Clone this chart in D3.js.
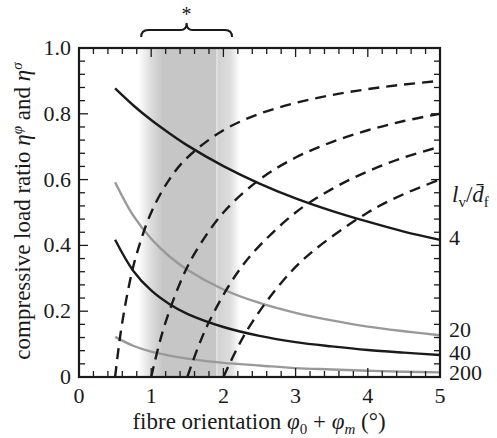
<!DOCTYPE html>
<html><head><meta charset="utf-8">
<script src="https://cdn.jsdelivr.net/npm/d3@7"></script>
<style>
svg text, svg tspan { font-family: "Liberation Serif", "Times New Roman", Times, Tinos, serif !important; }
</style>
</head>
<body style="margin:0"><svg id="c" width="497" height="438" style="font-family:'Times New Roman'"></svg>
<script>
// ---- data ----
const xTicks = [0,1,2,3,4,5];
const yTicks = [0,0.2,0.4,0.6,0.8,1.0];
const yTickLabels = ["0","0.2","0.4","0.6","0.8","1.0"];
const ratioLabels = ["4","20","40","200"];

const solidX = [0.5,0.75,1,1.25,1.5,2,2.5,3,3.5,4,4.5,5];
const eta4   = [0.877,0.826,0.781,0.741,0.704,0.641,0.588,0.543,0.505,0.472,0.442,0.417];
const eta20  = [0.592,0.491,0.420,0.367,0.326,0.266,0.225,0.195,0.172,0.153,0.139,0.127];
const eta40  = [0.417,0.323,0.263,0.222,0.192,0.152,0.125,0.106,0.093,0.082,0.074,0.067];
const eta200 = [0.122,0.095,0.077,0.065,0.056,0.043,0.035,0.027,0.023,0.019,0.016,0.014];

const dashAX = [0.5,0.55,0.6,0.7,0.8,1,1.25,1.5,2,2.5,3,3.5,4,4.5,5];
const dashAY = [0,0.091,0.167,0.286,0.375,0.5,0.6,0.667,0.75,0.8,0.833,0.857,0.875,0.889,0.9];
const dashBX = [1,1.1,1.2,1.4,1.6,2,2.5,3,3.5,4,4.5,5];
const dashBY = [0,0.091,0.167,0.286,0.375,0.5,0.6,0.667,0.714,0.75,0.778,0.8];
const dashCX = [1.5,1.65,1.8,2.1,2.4,3,3.5,4,4.5,5];
const dashCY = [0,0.091,0.167,0.286,0.375,0.5,0.571,0.625,0.667,0.7];
const dashDX = [2,2.2,2.4,2.8,3.2,4,4.5,5];
const dashDY = [0,0.091,0.167,0.286,0.375,0.5,0.556,0.6];

const bandStart = 0.82, bandCoreStart = 1.16, bandLine = 1.91, bandEnd = 2.23;

// ---- layout ----
const L = 79, R = 440, T = 48, B = 377;
const x = d3.scaleLinear().domain([0,5]).range([L,R]);
const y = d3.scaleLinear().domain([0,1]).range([B,T]);
const svg = d3.select("#c");
const INK = "#1a1a1a";
const txt = (sel)=>sel.append("text").attr("font-family","Liberation Serif")
  .style("font-family",'"Liberation Serif"').attr("fill",INK);

// gradient band
const defs = svg.append("defs");
const g = defs.append("linearGradient").attr("id","band")
  .attr("gradientUnits","userSpaceOnUse")
  .attr("x1",x(bandStart)).attr("x2",x(bandEnd)).attr("y1",0).attr("y2",0);
const span = bandEnd - bandStart;
const off = v => ((v - bandStart)/span*100)+"%";
[[bandStart,"#ffffff"],[1.0,"#dcdcdc"],[bandCoreStart,"#c6c6c6"],[bandLine,"#c6c6c6"],
 [bandLine,"#d0d0d0"],[2.1,"#dedede"],[bandEnd,"#ffffff"]]
 .forEach(([v,c])=>g.append("stop").attr("offset",off(v)).attr("stop-color",c));
svg.append("rect").attr("x",x(bandStart)).attr("y",T)
  .attr("width",x(bandEnd)-x(bandStart)).attr("height",B-T).attr("fill","url(#band)");
svg.append("line").attr("x1",x(bandLine)).attr("x2",x(bandLine)).attr("y1",T).attr("y2",B)
  .attr("stroke","#efefef").attr("stroke-width",1);

// curves
const line = d3.line().x(d=>x(d[0])).y(d=>y(d[1])).curve(d3.curveCatmullRom);
const zip = (a,b)=>a.map((v,i)=>[v,b[i]]);
const solids = [[eta200,"#999"],[eta20,"#999"],[eta40,INK],[eta4,INK]];
solids.forEach(([ys,c])=>svg.append("path").attr("d",line(zip(solidX,ys)))
  .attr("fill","none").attr("stroke",c).attr("stroke-width",2.4));
[[dashAX,dashAY],[dashBX,dashBY],[dashCX,dashCY],[dashDX,dashDY]].forEach(([xs,ys])=>
  svg.append("path").attr("d",line(zip(xs,ys))).attr("fill","none")
    .attr("stroke",INK).attr("stroke-width",2.4).attr("stroke-dasharray","11,7"));

// ticks (inward on all four sides)
const ax = svg.append("g").attr("stroke",INK).attr("stroke-width",1.3);
d3.range(0,5.001,0.2).forEach(v=>{
  const major = Math.abs(v-Math.round(v))<1e-6, len = major?9:6;
  ax.append("line").attr("x1",x(v)).attr("x2",x(v)).attr("y1",B).attr("y2",B-len);
  ax.append("line").attr("x1",x(v)).attr("x2",x(v)).attr("y1",T).attr("y2",T+len);
});
d3.range(0,1.0001,0.04).forEach(v=>{
  const major = Math.abs(v*5-Math.round(v*5))<1e-6, len = major?9:6;
  ax.append("line").attr("x1",L).attr("x2",L+len).attr("y1",y(v)).attr("y2",y(v));
  ax.append("line").attr("x1",R).attr("x2",R-len).attr("y1",y(v)).attr("y2",y(v));
});
svg.append("rect").attr("x",L).attr("y",T).attr("width",R-L).attr("height",B-T)
  .attr("fill","none").attr("stroke",INK).attr("stroke-width",2.2);

// tick labels
xTicks.forEach(v=>txt(svg).attr("x",x(v)).attr("y",403).attr("text-anchor","middle")
  .attr("font-size",22).text(v));
yTicks.forEach((v,i)=>txt(svg).attr("x",71).attr("y",y(v)+7).attr("text-anchor","end")
  .attr("font-size",22).text(yTickLabels[i]));

// axis titles
const xt = txt(svg).attr("x",259).attr("y",429).attr("text-anchor","middle").attr("font-size",23);
xt.append("tspan").text("fibre orientation ");
xt.append("tspan").attr("font-style","italic").text("φ");
xt.append("tspan").attr("font-size",15).attr("dy",5).text("0");
xt.append("tspan").attr("dy",-5).text(" + ");
xt.append("tspan").attr("font-style","italic").text("φ");
xt.append("tspan").attr("font-size",15).attr("font-style","italic").attr("dy",5).text("m");
xt.append("tspan").attr("dy",-5).text(" (°)");

const yt = txt(svg).attr("transform","translate(30,211) rotate(-90)")
  .attr("text-anchor","middle").attr("font-size",23);
yt.append("tspan").text("compressive load ratio ");
yt.append("tspan").attr("font-style","italic").text("η");
yt.append("tspan").attr("font-style","italic").attr("font-size",15).attr("dy",-8).text("φ");
yt.append("tspan").attr("dy",8).text(" and ");
yt.append("tspan").attr("font-style","italic").text("η");
yt.append("tspan").attr("font-style","italic").attr("font-size",15).attr("dy",-8).text("σ");

// right-hand labels
const rl = txt(svg).attr("x",452).attr("y",202).attr("font-size",23);
rl.append("tspan").attr("font-style","italic").text("l");
rl.append("tspan").attr("font-size",15).attr("dy",5).text("v");
rl.append("tspan").attr("dy",-5).text("/");
rl.append("tspan").attr("font-style","italic").text("d\u0304");
rl.append("tspan").attr("font-size",15).attr("dy",5).text("f");
const rY = [eta4, eta20, eta40, eta200].map(a=>a[a.length-1]);
const rOffsets = [5, 2, 5, 8];
ratioLabels.forEach((t,i)=>txt(svg).attr("x",449)
  .attr("y",y(rY[i]) + rOffsets[i]).attr("font-size",22).text(t));

// brace and asterisk
const bx0 = x(bandStart)+3, bx1 = x(bandEnd)-8, bm = (bx0+bx1)/2;
svg.append("path").attr("d",
  `M${bx0},37 Q${bx0},30 ${bx0+7},30 L${bm-6},30 Q${bm},30 ${bm},23 Q${bm},30 ${bm+6},30 L${bx1-7},30 Q${bx1},30 ${bx1},37`)
  .attr("fill","none").attr("stroke",INK).attr("stroke-width",2);
txt(svg).attr("x",bm).attr("y",21).attr("text-anchor","middle").attr("font-size",20).text("*");
</script></body></html>
